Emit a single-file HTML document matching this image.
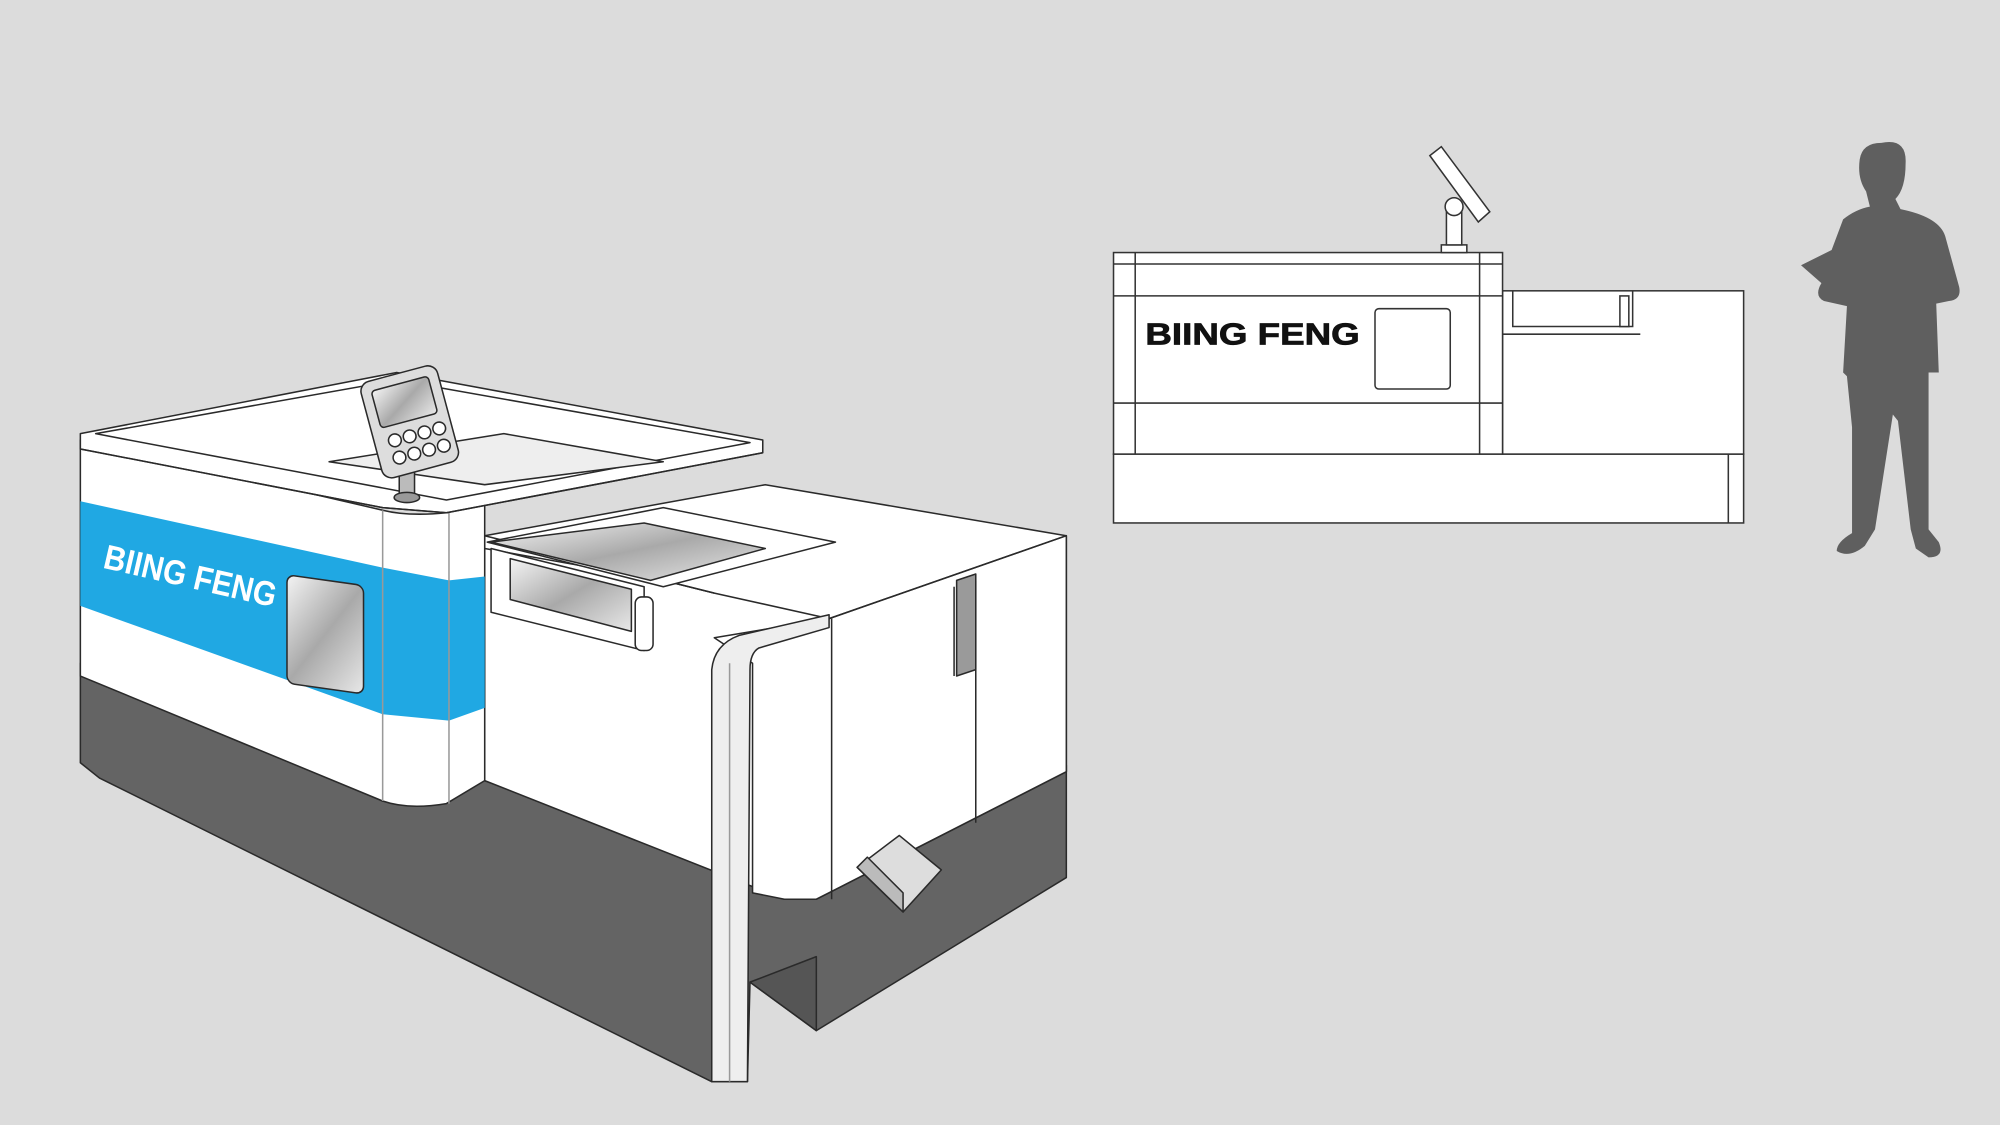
<!DOCTYPE html>
<html><head><meta charset="utf-8"><style>
html,body{margin:0;padding:0;background:#dcdcdc;}
svg{display:block}
</style></head><body>
<svg width="2000" height="1125" viewBox="0 0 1568 882" xmlns="http://www.w3.org/2000/svg">
<defs>
<linearGradient id="gl" x1="0" y1="0" x2="1" y2="1"><stop offset="0" stop-color="#f4f4f4"/><stop offset="0.5" stop-color="#a9a9a9"/><stop offset="1" stop-color="#e8e8e8"/></linearGradient>
</defs>
<rect width="1568" height="882" fill="#dcdcdc"/>
<g stroke="#2a2a2a" stroke-width="1.2" stroke-linejoin="round">
<polygon points="63,520 63,598 78,610 558,848 586,848 588,770 640,808 836,688 836,600 640,700 380,612 345,630 300,628" fill="#646464"/>
<polygon points="588,770 640,750 640,808" fill="#555"/>
<polygon points="380,420 600,380 836,420 836,605 640,705 615,705 380,612" fill="#fff"/>
<polygon points="560,500 650,485 836,420 836,605 640,705 615,705 590,700 590,520" fill="#fff"/>
<line x1="652" y1="485" x2="652" y2="705"/>
<line x1="765" y1="455" x2="765" y2="645"/>
<line x1="748" y1="460" x2="748" y2="530"/>
<polygon points="750,455 765,450 765,525 750,530" fill="#9a9a9a"/>
<polyline points="380,420 560,465 650,485 836,420" fill="none"/>
<polyline points="560,465 520,455 380,430" fill="none"/>
<polygon points="382,425 520,398 655,425 520,460" fill="#fff"/>
<polygon points="385,425 505,410 600,430 510,455" fill="url(#gl)"/>
<polygon points="385,430 505,460 505,510 385,480" fill="#fff"/>
<polygon points="400,438 495,462 495,495 400,470" fill="url(#gl)"/>
<rect x="498" y="468" width="14" height="42" rx="5" fill="#fff"/>
<path d="M558,848 L558,525 Q560,505 580,498 L650,482 L650,492 L595,508 Q588,512 588,525 L586,848 Z" fill="#eee"/>
<line x1="572" y1="520" x2="572" y2="848" stroke="#999"/>
<polygon points="672,680 705,655 738,682 708,715" fill="#ddd"/>
<polygon points="672,680 708,715 708,700 680,672" fill="#bbb"/>
<path d="M63,345 L300,400 Q320,405 350,402 L380,395 L380,612 L350,630 Q320,635 300,628 L63,530 Z" fill="#fff"/>
<polygon points="63,393 300,445 352,455 380,452 380,555 352,565 300,560 63,475" fill="#20a8e3" stroke="none"/>
<line x1="300" y1="400" x2="300" y2="628" stroke="#999"/>
<line x1="352" y1="402" x2="352" y2="630" stroke="#999"/>
<rect x="225" y="455" width="60" height="85" rx="6" fill="url(#gl)" transform="skewY(8) translate(0,-36)"/>
<text x="80" y="445" transform="rotate(13 80 445)" font-family="Liberation Sans, sans-serif" font-weight="bold" font-size="27" fill="#fff" stroke="none" textLength="138" lengthAdjust="spacingAndGlyphs">BIING FENG</text>
<polygon points="63,340 311,292 598,345 598,355 350,402 300,398 63,352" fill="#fff"/>
<polygon points="75,340 311,298 588,347 350,392" fill="#fff"/>
<polyline points="63,352 300,398 350,402 598,355" fill="none"/>
<polygon points="258,362 395,340 520,362 380,380" fill="#eee"/>
<rect x="313" y="370" width="12" height="20" fill="#bbb"/>
<ellipse cx="319" cy="390" rx="10" ry="4" fill="#999"/>
<g transform="rotate(-15 320 330)">
<rect x="290" y="292" width="62" height="78" rx="8" fill="#ddd"/>
<rect x="298" y="300" width="46" height="30" rx="3" fill="url(#gl)"/>
<circle cx="306" cy="342" r="5" fill="#fff"/><circle cx="318" cy="342" r="5" fill="#fff"/><circle cx="330" cy="342" r="5" fill="#fff"/><circle cx="342" cy="342" r="5" fill="#fff"/>
<circle cx="306" cy="356" r="5" fill="#fff"/><circle cx="318" cy="356" r="5" fill="#fff"/><circle cx="330" cy="356" r="5" fill="#fff"/><circle cx="342" cy="356" r="5" fill="#fff"/>
</g>
</g>
<g stroke="#333" stroke-width="1.2" fill="#fff">
<rect x="873" y="356" width="494" height="54"/>
<line x1="1355" y1="228" x2="1355" y2="410"/>
<rect x="1178" y="228" width="189" height="128"/>
<rect x="873" y="198" width="305" height="158"/>
<line x1="873" y1="207" x2="1178" y2="207"/>
<line x1="873" y1="232" x2="1178" y2="232"/>
<line x1="873" y1="316" x2="1178" y2="316"/>
<line x1="890" y1="198" x2="890" y2="356"/>
<line x1="1160" y1="198" x2="1160" y2="356"/>
<rect x="1078" y="242" width="59" height="63" rx="3"/>
<path d="M1186,228 L1186,256 L1280,256 L1280,228" fill="none"/>
<line x1="1178" y1="262" x2="1286" y2="262"/>
<rect x="1270" y="232" width="7" height="24"/>
<rect x="1130" y="192" width="20" height="6"/>
<rect x="1134" y="165" width="12" height="27"/>
<circle cx="1140" cy="162" r="7"/>
<polygon points="1121,122 1130,115 1168,166 1159,174"/>
</g>
<text x="898" y="270" font-family="Liberation Sans, sans-serif" font-weight="bold" font-size="24" fill="#111" stroke="#111" stroke-width="0.6" textLength="168" lengthAdjust="spacingAndGlyphs">BIING FENG</text>
<path fill="#5f5f5f" d="M1475,112 Q1495,108 1494,128 Q1494,148 1486,156 L1490,164 Q1520,170 1525,185 L1536,225 Q1538,235 1528,236 L1518,238 L1520,292 L1512,292 L1512,415 L1520,425 Q1525,437 1512,437 L1502,430 L1498,415 L1488,330 L1484,325 L1470,415 L1462,428 Q1450,438 1440,432 Q1440,425 1452,418 L1452,335 L1448,295 L1445,292 L1448,240 L1430,236 Q1422,232 1428,222 L1412,208 L1436,196 L1445,172 Q1455,164 1466,162 L1463,150 Q1456,140 1458,125 Q1460,112 1475,112 Z"/>
</svg>
</body></html>
